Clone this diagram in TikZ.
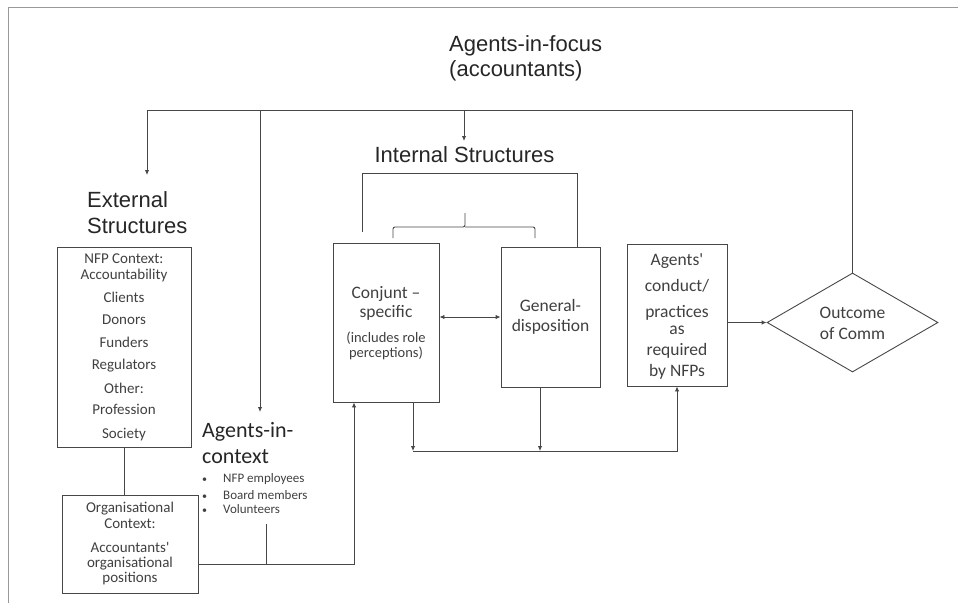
\documentclass[tikz,border=0pt]{standalone}
\usepackage{fontspec}
\setmainfont{Liberation Sans}
\newfontfamily\calib{Carlito}
\usetikzlibrary{shapes.geometric,arrows.meta}
\begin{document}
\begin{tikzpicture}[x=1pt,y=-1pt,
  ln/.style={draw=black!72,line width=0.9pt},
  arr/.style={ln,-{Latex[length=5pt,width=4.5pt]}},
  darr/.style={ln,{Latex[length=5pt,width=4.5pt]}-{Latex[length=5pt,width=4.5pt]}},
  box/.style={ln,rectangle,inner sep=0pt},
  head/.style={inner sep=0pt,anchor=base west,text=black!85,font=\fontsize{22}{25}\selectfont},
  ctxhead/.style={inner sep=0pt,anchor=base west,text=black!85,font=\calib\fontsize{22}{25}\selectfont},
  tfif/.style={inner sep=0pt,anchor=base,text=black!75,font=\calib\fontsize{15}{18}\selectfont},
  tsev/.style={inner sep=0pt,anchor=base,text=black!75,font=\calib\fontsize{17.5}{20}\selectfont},
  tthr/.style={inner sep=0pt,anchor=base west,text=black!75,font=\calib\fontsize{13}{16}\selectfont},
]
\useasboundingbox (0,0) rectangle (958,603);
\draw[black!40,line width=1pt] (958,7) -- (8,7) -- (8,603);

% headings
\node[head] (focus1) at (449,51) {Agents-in-focus};
\node[head] (focus2) at (449,76) {(accountants)};
\node[head] (ext1) at (87,207) {External};
\node[head] (ext2) at (87,233) {Structures};
\node[head,anchor=base] (intl) at (464.5,162) {Internal Structures};
\node[ctxhead] (ctx1) at (202,437) {Agents-in-};
\node[ctxhead] (ctx2) at (202,463) {context};
\foreach \t/\y [count=\i] in {NFP employees/482,Board members/499,Volunteers/513}{
  \node[tthr,font=\calib\fontsize{10}{12}\selectfont] (bul\i) at (202,\y) {•};
  \node[tthr] (bt\i) at (223,\y) {\t};
}

% boxes
\node[box,minimum width=134pt,minimum height=200pt] (nfp) at (124,347) {};
\node[box,minimum width=136pt,minimum height=98pt] (org) at (130,544) {};
\node[box,minimum width=106pt,minimum height=159pt] (conj) at (386,322.5) {};
\node[box,minimum width=99pt,minimum height=140pt] (gen) at (550.5,317) {};
\node[box,minimum width=100pt,minimum height=142pt] (agt) at (677,315) {};
\node[ln,diamond,inner sep=0pt,minimum width=171pt,minimum height=99pt] (dia) at (852.5,322.5) {};

% box texts
\foreach \t/\y [count=\i] in {NFP Context:/263,Accountability/279,Clients/302,Donors/324,Funders/347,Regulators/369,Other:/393,Profession/414,Society/438}
  \node[tfif] (nfpt\i) at (124,\y) {\t};
\foreach \t/\y [count=\i] in {Organisational/512,Context:/528,Accountants'/552,organisational/567,positions/582}
  \node[tfif] (orgt\i) at (130,\y) {\t};
\node[tsev] (cj1) at (386,298) {Conjunt –};
\node[tsev] (cj2) at (386,317) {specific};
\node[tfif,font=\calib\fontsize{14.5}{16}\selectfont] (cj3) at (386,342) {(includes role};
\node[tfif,font=\calib\fontsize{14.5}{16}\selectfont] (cj4) at (386,357) {perceptions)};
\node[tsev] (gn1) at (550.5,311) {General-};
\node[tsev] (gn2) at (550.5,331) {disposition};
\foreach \t/\y [count=\i] in {Agents'/265,{conduct/}/291,practices/317,as/334,required/355,by NFPs/376}
  \node[tsev] (agt\i) at (677,\y) {\t};
\node[tsev] (dt1) at (852.5,318) {Outcome};
\node[tsev] (dt2) at (852.5,339) {of Comm};

% top distribution line
\coordinate (tl) at (147,110);
\coordinate (tr) at (dia.north |- tl);
\draw[ln] (dia.north) -- (tr) -- (tl);
\coordinate (extTop) at (147,175);
\draw[arr] (tl) -- (extTop);
\coordinate (ctxTop) at (260,412);
\draw[arr] (ctxTop |- tl) -- (ctxTop);
\coordinate (intTop) at (464,141);
\draw[arr] (intTop |- tl) -- (intTop);

% internal structures bracket
\coordinate (brL) at (362,232);
\coordinate (brR) at (577,173);
\draw[ln] (brL) |- (brR) -- (gen.north -| brR);
\coordinate (bcL) at (393,238);
\coordinate (bcR) at (535,238);
\coordinate (bcM) at (465,227);
\draw[ln,rounded corners=2pt] (bcL) |- (bcM) -- (465,213);
\draw[ln,rounded corners=2pt] (bcR) |- (bcM);

% between internal boxes
\draw[darr] (conj.east |- gen.west) -- (gen.west);

% down to conduct
\coordinate (bl) at (413,451);
\coordinate (bm) at (540,451);
\draw[arr] (conj.south -| bl) -- (bl);
\draw[arr] (gen.south -| bm) -- (bm);
\draw[arr] (bl) -- (agt.south |- bl) -- (agt.south);

% organisational context to conjunt
\coordinate (oc) at (354,564);
\draw[arr] (org.east |- oc) -- (oc) -- (conj.south -| oc);
\coordinate (st) at (266,524);
\draw[ln] (st) -- (st |- oc);
\draw[ln] (nfp.south) -- (nfp.south |- org.north);

% conduct to outcome
\draw[arr] (agt.east |- dia.west) -- (dia.west);
\end{tikzpicture}
\end{document}
